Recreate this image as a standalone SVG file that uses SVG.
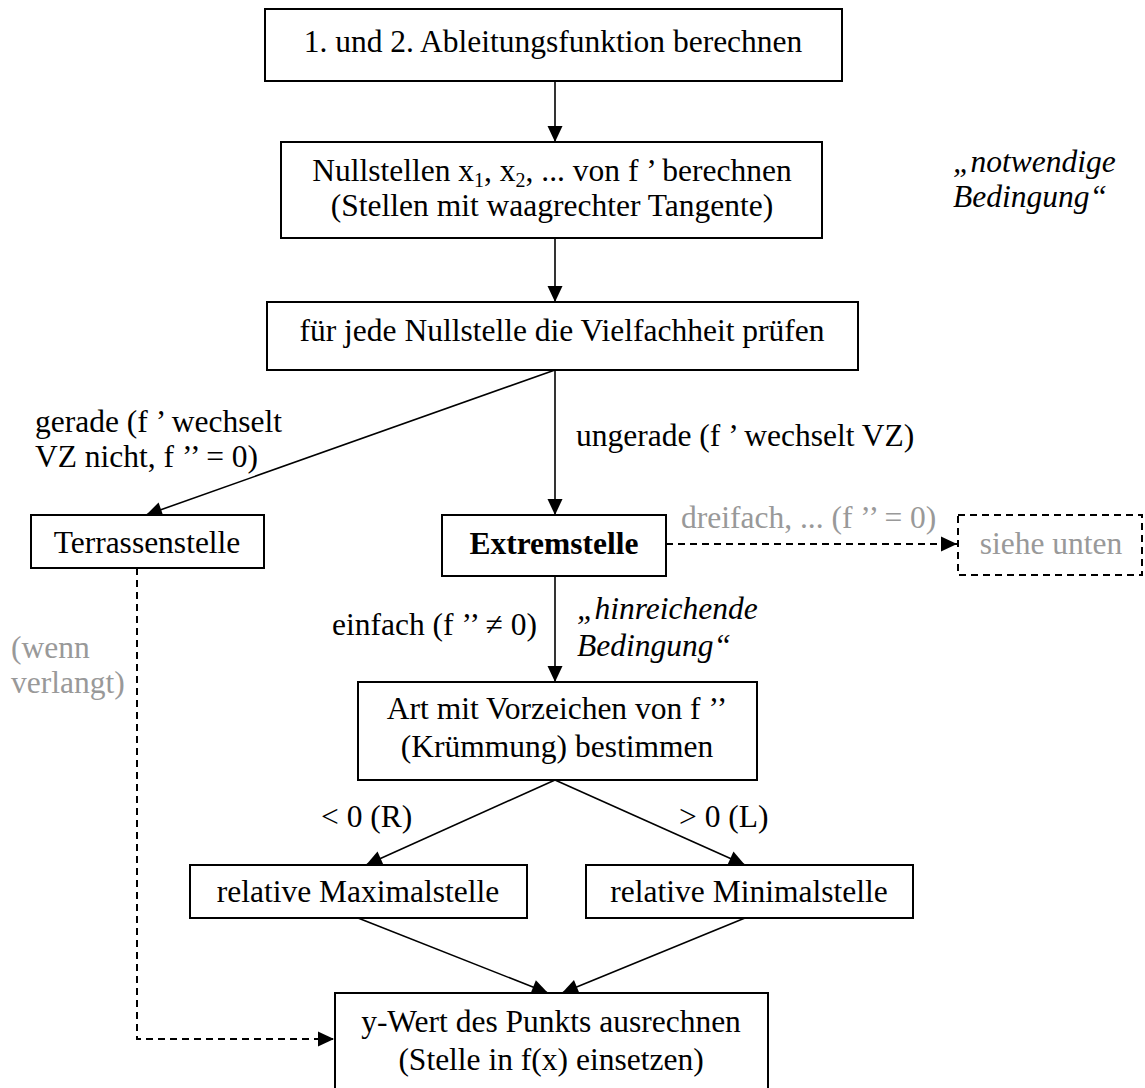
<svg xmlns="http://www.w3.org/2000/svg" width="1145" height="1088" viewBox="0 0 1145 1088">
<style>
  text { font-family: "Liberation Serif", "Times New Roman", serif; font-size: 31.5px; fill: #000; }
  .c { text-anchor: middle; }
  .g { fill: #999999; }
  .i { font-style: italic; }
  .b { font-weight: bold; }
  .box { fill: #fff; stroke: #000; stroke-width: 2; }
  .dbox { fill: #fff; stroke: #000; stroke-width: 2; stroke-dasharray: 7 5; }
  .ln { fill: none; stroke: #000; stroke-width: 1.6; }
  .dl { fill: none; stroke: #000; stroke-width: 2; stroke-dasharray: 7 5; }
  .sub { font-size: 20px; }
</style>
<defs>
  <marker id="ah" markerUnits="userSpaceOnUse" markerWidth="18" markerHeight="18" refX="16" refY="7.5" orient="auto" overflow="visible">
    <path d="M0,0 L16,7.5 L0,15 z" fill="#000"/>
  </marker>
</defs>
<rect width="1145" height="1088" fill="#fff"/>

<g id="connectors">
  <line class="ln" x1="555" y1="81" x2="555" y2="142" marker-end="url(#ah)"/>
  <line class="ln" x1="555" y1="238" x2="555" y2="302" marker-end="url(#ah)"/>
  <line class="ln" x1="555" y1="370" x2="146" y2="515" marker-end="url(#ah)"/>
  <line class="ln" x1="555" y1="370" x2="555" y2="515" marker-end="url(#ah)"/>
  <line class="dl" x1="666" y1="544" x2="957" y2="544" marker-end="url(#ah)"/>
  <line class="ln" x1="555" y1="576" x2="555" y2="682" marker-end="url(#ah)"/>
  <line class="ln" x1="555" y1="780" x2="366" y2="865" marker-end="url(#ah)"/>
  <line class="ln" x1="555" y1="780" x2="745" y2="865" marker-end="url(#ah)"/>
  <line class="ln" x1="358" y1="918" x2="548" y2="993" marker-end="url(#ah)"/>
  <line class="ln" x1="745" y1="918" x2="562" y2="993" marker-end="url(#ah)"/>
  <polyline class="dl" points="137,568 137,1039 334,1039" marker-end="url(#ah)"/>
</g>

<g id="labels">
  <text x="35" y="432">gerade (f ’ wechselt</text>
  <text x="35" y="467">VZ nicht, f ’’ = 0)</text>
  <text x="576" y="446">ungerade (f ’ wechselt VZ)</text>
  <text class="g" x="681" y="528">dreifach, ... (f ’’ = 0)</text>
  <text class="g" x="11" y="658">(wenn</text>
  <text class="g" x="11" y="693">verlangt)</text>
  <text x="332" y="635">einfach (f ’’ ≠ 0)</text>
  <text class="i" x="577" y="619">„hinreichende</text>
  <text class="i" x="577" y="656">Bedingung“</text>
  <text class="i" x="953" y="172">„notwendige</text>
  <text class="i" x="953" y="207">Bedingung“</text>
  <text x="321" y="827">&lt; 0 (R)</text>
  <text x="679" y="827">&gt; 0 (L)</text>
</g>

<g id="n1">
  <rect class="box" x="265" y="9" width="577" height="72"/>
  <text class="c" x="553" y="52">1. und 2. Ableitungsfunktion berechnen</text>
</g>
<g id="n2">
  <rect class="box" x="281" y="142" width="541" height="96"/>
  <text class="c" x="552" y="181">Nullstellen x<tspan class="sub" baseline-shift="-6">1</tspan>, x<tspan class="sub" baseline-shift="-6">2</tspan>, ... von f ’ berechnen</text>
  <text class="c" x="552" y="216">(Stellen mit waagrechter Tangente)</text>
</g>
<g id="n3">
  <rect class="box" x="267" y="302" width="591" height="68"/>
  <text class="c" x="562" y="341">für jede Nullstelle die Vielfachheit prüfen</text>
</g>
<g id="n4">
  <rect class="box" x="31" y="515" width="233" height="53"/>
  <text class="c" x="147" y="553">Terrassenstelle</text>
</g>
<g id="n5">
  <rect class="box" x="442" y="515" width="224" height="61"/>
  <text class="c b" x="554" y="554">Extremstelle</text>
</g>
<g id="n6">
  <rect class="dbox" x="958" y="515" width="184" height="60"/>
  <text class="c g" x="1051" y="554">siehe unten</text>
</g>
<g id="n7">
  <rect class="box" x="358" y="682" width="399" height="98"/>
  <text class="c" x="557" y="719">Art mit Vorzeichen von f ’’</text>
  <text class="c" x="557" y="757">(Krümmung) bestimmen</text>
</g>
<g id="n8">
  <rect class="box" x="190" y="865" width="337" height="53"/>
  <text class="c" x="358" y="902">relative Maximalstelle</text>
</g>
<g id="n9">
  <rect class="box" x="586" y="865" width="327" height="53"/>
  <text class="c" x="749" y="902">relative Minimalstelle</text>
</g>
<g id="n10">
  <rect class="box" x="335" y="993" width="433" height="100"/>
  <text class="c" x="551" y="1032">y-Wert des Punkts ausrechnen</text>
  <text class="c" x="551" y="1070">(Stelle in f(x) einsetzen)</text>
</g>
</svg>
